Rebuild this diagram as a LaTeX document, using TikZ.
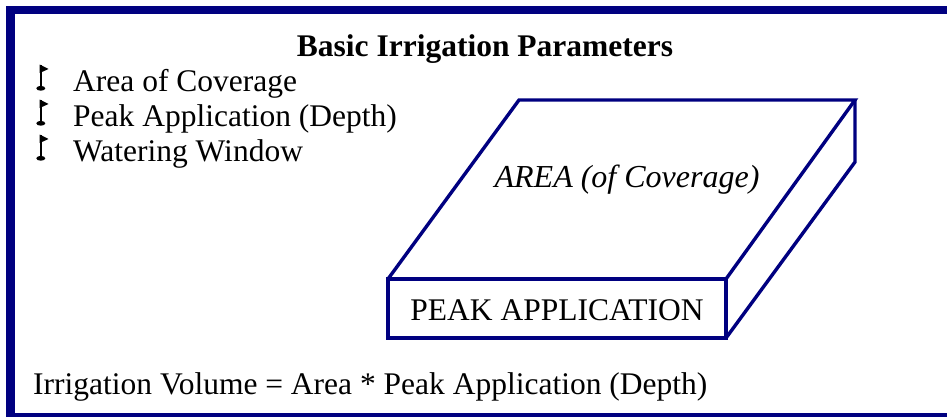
\documentclass[tikz,border=0pt]{standalone}
\usepackage{fontspec}
\setmainfont{Liberation Serif}
\usetikzlibrary{calc}
\definecolor{navyline}{RGB}{0,0,128}

\tikzset{
  txt/.style={inner sep=0pt, font=\fontsize{31.5}{36}\selectfont},
  slab/.style={draw=navyline, line width=3.4pt, line join=miter},
}

\newcommand{\golfflag}[1]{%
  \begin{scope}[shift={(#1)}]
    \draw[line width=2.6pt] (0,-3) -- (0,-26);
    \fill (-1.3,-26.5) -- (7.5,-22) -- (-1.3,-18) -- cycle;
    \fill (-0.2,-2.7) ellipse [x radius=4.5, y radius=2.4];
  \end{scope}}

\begin{document}
\begin{tikzpicture}[x=1pt, y=-1pt]
  \clip (0,0) rectangle (947,416);
  \fill[white] (0,0) rectangle (947,416);
  \draw[navyline, line width=8.5pt] (10.5,10) rectangle (960,417.5);

  \node[txt, font=\fontsize{31.5}{36}\selectfont\bfseries, anchor=base] (title) at (485,56) {Basic Irrigation Parameters};

  \node[txt, anchor=base west] (area) at (73,91) {Area of Coverage};
  \node[txt, anchor=base west] (peak) at (73,126) {Peak Application (Depth)};
  \node[txt, anchor=base west] (window) at (73,161) {Watering Window};
  \golfflag{$(area.base west)+(-32,0)$}
  \golfflag{$(peak.base west)+(-32,0)$}
  \golfflag{$(window.base west)+(-32,0)$}

  % the slab
  \draw[slab] (388,279) -- (519,100) -- (855,100) -- (726,279);
  \draw[slab] (855,100) -- (855,162) -- (726,338);
  \draw[slab] (388,279) rectangle (726,338);
  \node[txt, anchor=base, font=\fontsize{32}{36}\selectfont\itshape] (top) at (627,187) {AREA (of Coverage)};
  \node[txt, anchor=base] (front) at (557,320) {PEAK APPLICATION};

  \node[txt, anchor=base west] (volume) at (33,394) {Irrigation Volume = Area * Peak Application (Depth)};
\end{tikzpicture}
\end{document}
